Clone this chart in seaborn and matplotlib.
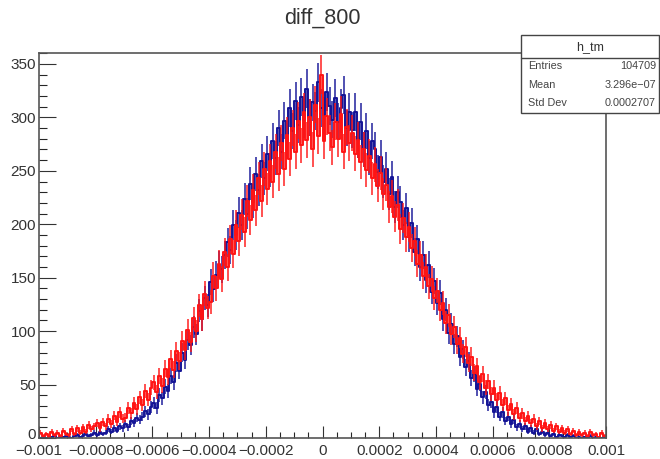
import numpy as np
import pandas as pd
import matplotlib
matplotlib.use("Agg")
import matplotlib.pyplot as plt
import matplotlib.transforms as mtransforms
import seaborn as sns
from matplotlib.patches import Rectangle
from matplotlib.ticker import MultipleLocator

# histogram contents (200 bins, -0.001 .. 0.001)
blue_counts = [
    0, 1, 0, 0, 1, 2, 0, 1, 1, 2,
    1, 0, 2, 3, 1, 2, 4, 2, 3, 5,
    3, 6, 4, 5, 8, 6, 9, 7, 11, 9,
    13, 10, 16, 14, 19, 17, 20, 25, 22, 29,
    33, 28, 40, 37, 48, 44, 58, 52, 70, 63,
    80, 73, 92, 87, 104, 97, 119, 111, 131, 124,
    146, 139, 153, 162, 158, 171, 183, 176, 199, 190,
    211, 199, 224, 210, 238, 221, 247, 232, 259, 243,
    266, 251, 278, 262, 290, 268, 297, 278, 309, 287,
    315, 293, 319, 298, 327, 300, 314, 306, 333, 309,
    302, 324, 311, 298, 318, 296, 309, 321, 290, 305,
    288, 305, 279, 296, 270, 287, 262, 278, 270, 249,
    263, 240, 252, 228, 244, 216, 230, 221, 199, 215,
    188, 201, 174, 186, 160, 171, 148, 162, 137, 147,
    126, 136, 111, 120, 98, 107, 88, 95, 76, 83,
    66, 72, 56, 60, 46, 51, 38, 43, 31, 34,
    24, 29, 20, 24, 16, 20, 13, 17, 10, 13,
    8, 11, 6, 9, 5, 8, 4, 6, 3, 5,
    2, 4, 1, 3, 2, 1, 3, 1, 2, 0,
    1, 0, 1, 0, 2, 0, 1, 0, 0, 1,
]
red_counts = [
    5, 2, 4, 1, 6, 3, 5, 2, 7, 4,
    3, 8, 4, 9, 5, 10, 6, 12, 8, 11,
    14, 9, 15, 11, 18, 13, 21, 15, 24, 18,
    19, 28, 23, 33, 27, 38, 31, 44, 36, 47,
    52, 43, 58, 49, 65, 57, 74, 64, 81, 72,
    91, 82, 101, 90, 112, 100, 124, 111, 135, 122,
    127, 152, 140, 163, 149, 174, 160, 186, 172, 199,
    184, 209, 193, 222, 204, 232, 213, 243, 222, 252,
    233, 259, 240, 268, 247, 276, 252, 284, 261, 290,
    268, 297, 274, 305, 279, 300, 270, 312, 283, 340,
    278, 301, 285, 272, 296, 280, 303, 268, 291, 276,
    285, 266, 279, 258, 270, 251, 264, 243, 256, 236,
    248, 228, 237, 216, 226, 207, 218, 196, 206, 188,
    197, 178, 184, 163, 171, 152, 160, 142, 149, 131,
    138, 120, 126, 108, 115, 97, 104, 88, 94, 79,
    85, 70, 76, 61, 67, 52, 60, 47, 53, 41,
    47, 36, 42, 31, 37, 26, 32, 22, 28, 19,
    23, 16, 21, 14, 18, 11, 16, 9, 14, 8,
    12, 7, 11, 6, 9, 5, 8, 4, 7, 3,
    6, 3, 5, 2, 6, 3, 4, 1, 5, 2,
]
xticks = [-0.001, -0.0008, -0.0006, -0.0004, -0.0002, 0, 0.0002, 0.0004, 0.0006, 0.0008, 0.001]
xtick_labels = ["\u22120.001", "\u22120.0008", "\u22120.0006", "\u22120.0004", "\u22120.0002",
                "0", "0.0002", "0.0004", "0.0006", "0.0008", "0.001"]
yticks = [0, 50, 100, 150, 200, 250, 300, 350]
title = "diff_800"
stat_name = "h_tm"
stat_rows = [("Entries", "104709"), ("Mean", "3.296e\u221207"), ("Std Dev", "0.0002707")]

sns.set_style("white")
plt.rcParams['font.family'] = ['Liberation Sans', 'DejaVu Sans']

nbins = len(blue_counts)
edges = np.linspace(-0.001, 0.001, nbins + 1)
centers = (edges[:-1] + edges[1:]) / 2
blue_c = '#141496'
red_c = '#ff1414'

fig = plt.figure(figsize=(6.6, 4.59), dpi=100)
ax = fig.add_axes([39 / 660, 21 / 459, 567 / 660, 384.7 / 459])

for counts, col in [(blue_counts, blue_c), (red_counts, red_c)]:
    df = pd.DataFrame({"x": centers, "n": np.array(counts, dtype=float)})
    sns.histplot(data=df, x="x", weights="n", binwidth=0.002 / nbins, binrange=(-0.001, 0.001),
                 element="step", fill=False, color=col, linewidth=1.4, ax=ax)
    ax.errorbar(df["x"], df["n"], yerr=np.sqrt(df["n"]), fmt='none', ecolor=col,
                elinewidth=1.3, alpha=0.8)

ax.set_xlim(-0.001, 0.001)
ax.set_ylim(0, 360)
ax.set_xlabel("")
ax.set_ylabel("")
ax.set_xticks(xticks, xtick_labels)
ax.set_yticks(yticks, [str(v) for v in yticks])
ax.xaxis.set_minor_locator(MultipleLocator(0.00005))
ax.yaxis.set_minor_locator(MultipleLocator(10))
ax.tick_params(axis='y', which='major', direction='in', length=12, width=0.8, pad=2,
               labelsize=11, colors='#333333', left=True)
ax.tick_params(axis='y', which='minor', direction='in', length=6, width=0.8, left=True)
ax.tick_params(axis='x', which='major', direction='in', length=8.3, width=0.8, pad=4.5,
               labelsize=11, colors='#333333', bottom=True)
ax.tick_params(axis='x', which='minor', direction='in', length=4.2, width=0.8, bottom=True)
for sp in ax.spines.values():
    sp.set_color('#555555')
    sp.set_linewidth(1.2)

# lift the y "0" label a little so it clears the first x label
zero_lab = ax.get_yticklabels()[0]
zero_lab.set_transform(zero_lab.get_transform()
                       + mtransforms.ScaledTranslation(0, 3 / 72, fig.dpi_scale_trans))

fig.text(322.5 / 660, 1 - 18 / 459, title, ha='center', va='center', fontsize=15.5, color='#333333')

# stats box
x0, x1 = 521 / 660, 659 / 660
ytop, ybot = 1 - 35 / 459, 1 - 113 / 459
fig.patches.append(Rectangle((x0, ybot), x1 - x0, ytop - ybot, transform=fig.transFigure,
                             facecolor='white', edgecolor='#444444', linewidth=1.0, zorder=5))
fig.lines.append(plt.Line2D([x0, x1], [1 - 58 / 459] * 2, transform=fig.transFigure,
                            color='#444444', linewidth=1.0, zorder=6))
fig.text((x0 + x1) / 2, 1 - 47 / 459, stat_name, ha='center', va='center', fontsize=9,
         color='#333333', zorder=7)
for k, (lab, val) in enumerate(stat_rows):
    yy = 1 - (66 + 18.5 * k) / 459
    fig.text(528 / 660, yy, lab, ha='left', va='center', fontsize=7.8, color='#444444', zorder=7)
    fig.text(656 / 660, yy, val, ha='right', va='center', fontsize=7.8, color='#444444', zorder=7)

fig.savefig("out.png", dpi=100)
